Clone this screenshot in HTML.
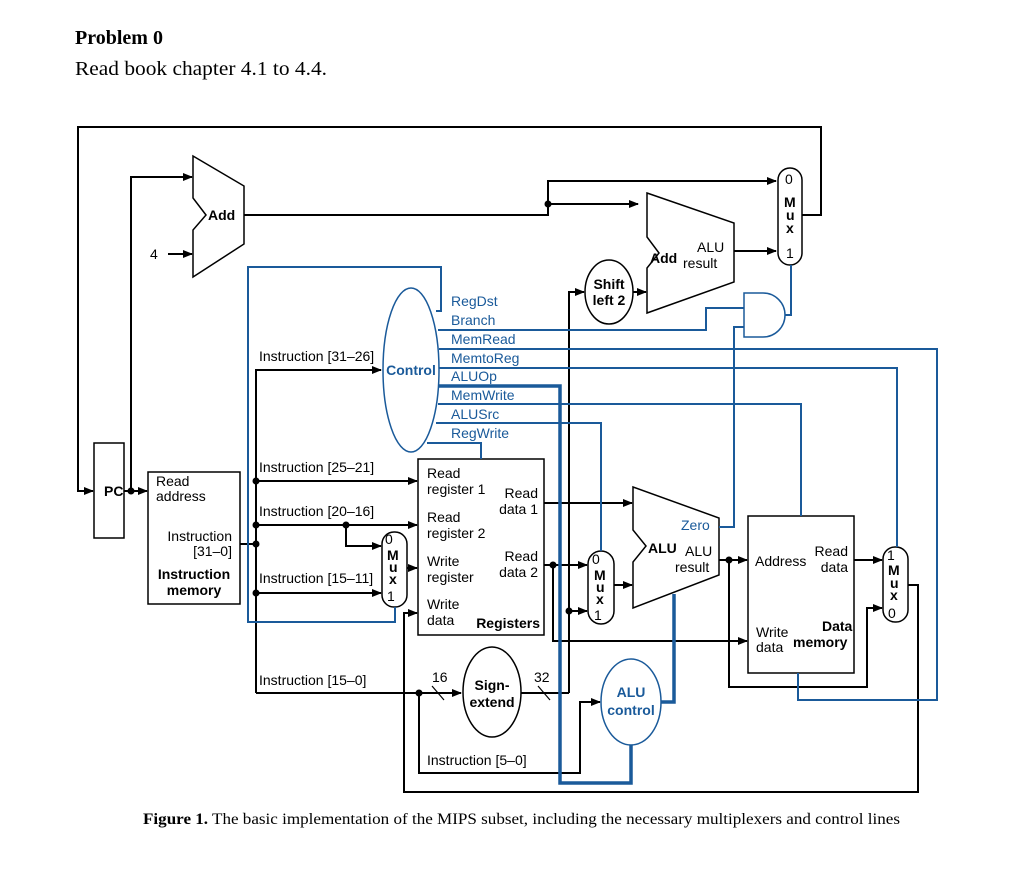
<!DOCTYPE html>
<html><head><meta charset="utf-8"><style>
html,body{margin:0;padding:0;background:#fff;}
svg{display:block;}
.t{font-family:"Liberation Sans",sans-serif;font-size:14px;fill:#000;}
.b{font-weight:bold;}
.bl{fill:#1a5a9a;}
</style></head><body>
<svg width="1024" height="880" viewBox="0 0 1024 880" xmlns="http://www.w3.org/2000/svg">
<defs>
<marker id="a" markerWidth="10" markerHeight="8" refX="9" refY="4" orient="auto" markerUnits="userSpaceOnUse"><path d="M0,0 L10,4 L0,8 z" fill="#000"/></marker>
</defs>
<text x="75" y="44" style="font-family:'Liberation Serif',serif;font-size:20px;font-weight:bold">Problem 0</text>
<text x="75" y="75" textLength="252" lengthAdjust="spacingAndGlyphs" style="font-family:'Liberation Serif',serif;font-size:20px">Read book chapter 4.1 to 4.4.</text>
<text x="143" y="824" textLength="757" lengthAdjust="spacingAndGlyphs" style="font-family:'Liberation Serif',serif;font-size:16px"><tspan font-weight="bold">Figure 1.</tspan> The basic implementation of the MIPS subset, including the necessary multiplexers and control lines</text>

<g fill="none" stroke="#000" stroke-width="2">
<polyline points="802,215 821,215 821,127 78,127 78,491 93,491" marker-end="url(#a)"/>
<rect x="94" y="443" width="30" height="95" stroke-width="1.5"/>
<polyline points="124,491 147,491" marker-end="url(#a)"/>
<polyline points="131,491 131,177 192,177" marker-end="url(#a)"/>
<polygon points="193,156 244,186 244,244 193,277 193,230 206,215 193,198" stroke-width="1.5"/>
<polyline points="168,254 192,254" marker-end="url(#a)"/>
<polyline points="244,215 548,215 548,204 638,204" marker-end="url(#a)"/>
<polyline points="548,204 548,181 776,181" marker-end="url(#a)"/>
<polygon points="647,193 734,223 734,282 647,313 647,268 659,253 647,237" stroke-width="1.5"/>
<polyline points="734,251 776,251" marker-end="url(#a)"/>
<rect x="778" y="168" width="24" height="97" rx="12" stroke-width="1.5"/>
<ellipse cx="609" cy="292" rx="24" ry="32" stroke-width="1.5"/>
<polyline points="633,292 646,292" marker-end="url(#a)"/>
<polyline points="569,693 569,292 584,292" marker-end="url(#a)"/>
<rect x="148" y="472" width="92" height="132" stroke-width="1.5"/>
<polyline points="240,544 256,544"/>
<polyline points="256,693 256,370 381,370" marker-end="url(#a)"/>
<polyline points="256,481 417,481" marker-end="url(#a)"/>
<polyline points="256,525 417,525" marker-end="url(#a)"/>
<polyline points="346,525 346,546 381,546" marker-end="url(#a)"/>
<polyline points="256,593 381,593" marker-end="url(#a)"/>
<rect x="382" y="532" width="25" height="75" rx="12" stroke-width="1.5"/>
<polyline points="407,568 417,568" marker-end="url(#a)"/>
<rect x="418" y="459" width="126" height="176" stroke-width="1.5"/>
<polyline points="256,693 461,693" marker-end="url(#a)"/>
<ellipse cx="492" cy="692" rx="29" ry="45" stroke-width="1.5"/>
<polyline points="521,693 569,693"/>
<line x1="432" y1="686" x2="444" y2="700" stroke-width="1.2"/>
<line x1="538" y1="686" x2="550" y2="700" stroke-width="1.2"/>
<polyline points="419,693 419,773 580,773 580,702 600,702" marker-end="url(#a)"/>
<polyline points="544,503 632,503" marker-end="url(#a)"/>
<polyline points="544,565 587,565" marker-end="url(#a)"/>
<polyline points="553,565 553,641 747,641" marker-end="url(#a)"/>
<polyline points="569,611 587,611" marker-end="url(#a)"/>
<rect x="588" y="551" width="26" height="73" rx="13" stroke-width="1.5"/>
<polyline points="614,585 632,585" marker-end="url(#a)"/>
<polygon points="633,487 719,518 719,575 633,608 633,562 646,546 633,530" stroke-width="1.5"/>
<polyline points="719,560 747,560" marker-end="url(#a)"/>
<polyline points="729,560 729,687 867,687 867,608 882,608" marker-end="url(#a)"/>
<rect x="748" y="516" width="106" height="157" stroke-width="1.5"/>
<polyline points="854,560 882,560" marker-end="url(#a)"/>
<rect x="883" y="547" width="25" height="75" rx="12" stroke-width="1.5"/>
<polyline points="908,585 918,585 918,792 404,792 404,613 417,613" marker-end="url(#a)"/>
</g>
<g fill="#000">
<circle cx="131" cy="491" r="3.5"/><circle cx="548" cy="204" r="3.5"/>
<circle cx="256" cy="481" r="3.5"/><circle cx="256" cy="525" r="3.5"/><circle cx="256" cy="544" r="3.5"/><circle cx="256" cy="593" r="3.5"/>
<circle cx="346" cy="525" r="3.5"/><circle cx="419" cy="693" r="3.5"/><circle cx="553" cy="565" r="3.5"/>
<circle cx="569" cy="611" r="3.5"/><circle cx="729" cy="560" r="3.5"/>
</g>
<g fill="none" stroke="#1a5a9a" stroke-width="2">
<ellipse cx="411" cy="370" rx="28" ry="82" stroke-width="1.5"/>
<polyline points="436,311 441,311 441,267 248,267 248,622 395,622 395,607"/>
<polyline points="438,330 706,330 706,308 744,308"/>
<polyline points="439,349 937,349 937,700 798,700 798,673"/>
<polyline points="439,368 897,368 897,547"/>
<polyline points="439,386 560,386 560,783 631,783 631,745" stroke-width="3.5"/>
<polyline points="674,594 674,702 661,702" stroke-width="3.5"/>
<polyline points="438,404 801,404 801,516"/>
<polyline points="436,423 601,423 601,551"/>
<polyline points="427,443 481,443 481,459"/>
<polyline points="719,527 734,527 734,327 744,327"/>
<path d="M744,293 L763,293 A22,22 0 0 1 763,337 L744,337 Z" stroke-width="1.5"/>
<polyline points="785,315 791,315 791,265"/>
<ellipse cx="631" cy="702" rx="30" ry="43" stroke-width="1.5"/>
</g>
<g class="t">
<text x="104" y="496" class="b">PC</text>
<text x="208" y="220" class="b">Add</text>
<text x="150" y="259">4</text>
<text x="650" y="263" class="b">Add</text>
<text x="697" y="252">ALU</text>
<text x="683" y="268">result</text>
<text x="785" y="184">0</text>
<text x="784" y="207" class="b">M</text><text x="786" y="220" class="b">u</text><text x="786" y="233" class="b">x</text>
<text x="786" y="258">1</text>
<text x="609" y="289" class="b" text-anchor="middle">Shift</text>
<text x="609" y="305" class="b" text-anchor="middle">left 2</text>
<text x="156" y="486">Read</text><text x="156" y="501">address</text>
<text x="232" y="541" text-anchor="end">Instruction</text><text x="232" y="556" text-anchor="end">[31–0]</text>
<text x="194" y="579" class="b" text-anchor="middle">Instruction</text><text x="194" y="595" class="b" text-anchor="middle">memory</text>
<text x="259" y="361">Instruction [31–26]</text>
<text x="259" y="472">Instruction [25–21]</text>
<text x="259" y="516">Instruction [20–16]</text>
<text x="259" y="583">Instruction [15–11]</text>
<text x="259" y="685">Instruction [15–0]</text>
<text x="427" y="765">Instruction [5–0]</text>
<text x="385" y="544">0</text>
<text x="387" y="560" class="b">M</text><text x="389" y="572" class="b">u</text><text x="389" y="584" class="b">x</text>
<text x="387" y="601">1</text>
<text x="427" y="478">Read</text><text x="427" y="494">register 1</text>
<text x="538" y="498" text-anchor="end">Read</text><text x="538" y="514" text-anchor="end">data 1</text>
<text x="427" y="522">Read</text><text x="427" y="538">register 2</text>
<text x="427" y="566">Write</text><text x="427" y="582">register</text>
<text x="538" y="561" text-anchor="end">Read</text><text x="538" y="577" text-anchor="end">data 2</text>
<text x="427" y="609">Write</text><text x="427" y="625">data</text>
<text x="540" y="628" class="b" text-anchor="end">Registers</text>
<text x="492" y="690" class="b" text-anchor="middle">Sign-</text><text x="492" y="707" class="b" text-anchor="middle">extend</text>
<text x="432" y="682">16</text><text x="534" y="682">32</text>
<text x="592" y="564">0</text>
<text x="594" y="580" class="b">M</text><text x="596" y="592" class="b">u</text><text x="596" y="604" class="b">x</text>
<text x="594" y="620">1</text>
<text x="648" y="553" class="b">ALU</text>
<text x="685" y="556">ALU</text><text x="675" y="572">result</text>
<text x="681" y="530" class="bl">Zero</text>
<text x="755" y="566">Address</text>
<text x="848" y="556" text-anchor="end">Read</text><text x="848" y="572" text-anchor="end">data</text>
<text x="756" y="637">Write</text><text x="756" y="652">data</text>
<text x="822" y="631" class="b">Data</text><text x="793" y="647" class="b">memory</text>
<text x="887" y="560">1</text>
<text x="888" y="575" class="b">M</text><text x="890" y="588" class="b">u</text><text x="890" y="600" class="b">x</text>
<text x="888" y="618">0</text>
<text x="411" y="375" class="b bl" text-anchor="middle">Control</text>
<text x="631" y="697" class="b bl" text-anchor="middle">ALU</text><text x="631" y="715" class="b bl" text-anchor="middle">control</text>
<text x="451" y="306" class="bl">RegDst</text>
<text x="451" y="325" class="bl">Branch</text>
<text x="451" y="344" class="bl">MemRead</text>
<text x="451" y="363" class="bl">MemtoReg</text>
<text x="451" y="381" class="bl">ALUOp</text>
<text x="451" y="400" class="bl">MemWrite</text>
<text x="451" y="419" class="bl">ALUSrc</text>
<text x="451" y="438" class="bl">RegWrite</text>
</g>
</svg>
</body></html>
